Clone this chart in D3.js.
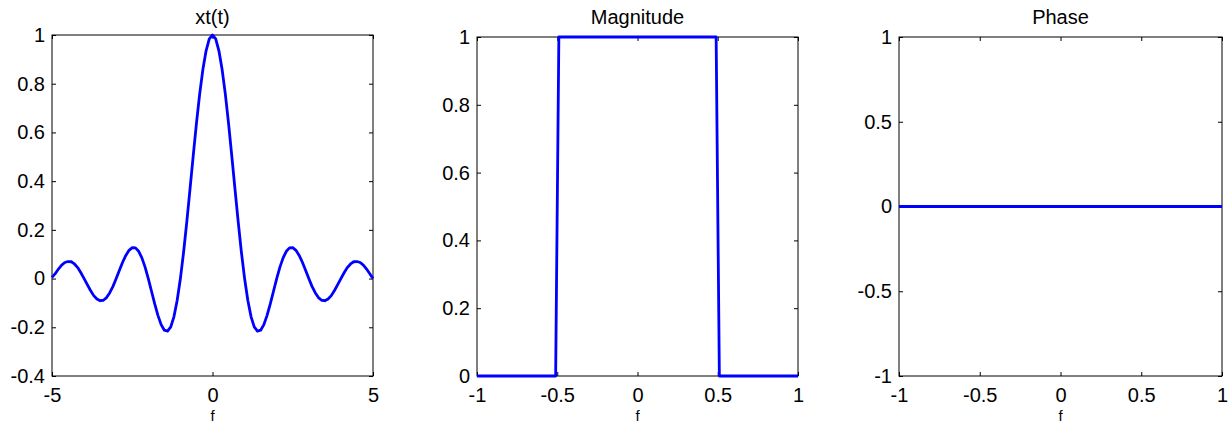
<!DOCTYPE html>
<html lang="en">
<head>
<meta charset="utf-8">
<title>xt(t), Magnitude, Phase</title>
<script src="https://d3js.org/d3.v7.min.js"></script>
<style>
  body { margin: 0; background: #fff; }
  svg text { font-family: "Liberation Sans", Arial, sans-serif; fill: #000; }
</style>
</head>
<body>
<div id="chart"></div>
<script>
// time axis and sinc samples
var tVals = [-5, -4.9, -4.8, -4.7, -4.6, -4.5, -4.4, -4.3, -4.2, -4.1,
             -4, -3.9, -3.8, -3.7, -3.6, -3.5, -3.4, -3.3, -3.2, -3.1,
             -3, -2.9, -2.8, -2.7, -2.6, -2.5, -2.4, -2.3, -2.2, -2.1,
             -2, -1.9, -1.8, -1.7, -1.6, -1.5, -1.4, -1.3, -1.2, -1.1,
             -1, -0.9, -0.8, -0.7, -0.6, -0.5, -0.4, -0.3, -0.2, -0.1,
             0, 0.1, 0.2, 0.3, 0.4, 0.5, 0.6, 0.7, 0.8, 0.9,
             1, 1.1, 1.2, 1.3, 1.4, 1.5, 1.6, 1.7, 1.8, 1.9,
             2, 2.1, 2.2, 2.3, 2.4, 2.5, 2.6, 2.7, 2.8, 2.9,
             3, 3.1, 3.2, 3.3, 3.4, 3.5, 3.6, 3.7, 3.8, 3.9,
             4, 4.1, 4.2, 4.3, 4.4, 4.5, 4.6, 4.7, 4.8, 4.9, 5];
var xtVals = [0.005, 0.020, 0.039, 0.055, 0.066, 0.070, 0.069, 0.060, 0.045, 0.024,
              0, -0.025, -0.049, -0.070, -0.084, -0.091, -0.089, -0.078, -0.058, -0.032,
              0, 0.034, 0.067, 0.095, 0.116, 0.127, 0.126, 0.112, 0.085, 0.047,
              0, -0.052, -0.104, -0.151, -0.189, -0.212, -0.216, -0.198, -0.156, -0.089,
              0, 0.109, 0.234, 0.368, 0.505, 0.637, 0.757, 0.858, 0.935, 0.984,
              1, 0.984, 0.935, 0.858, 0.757, 0.637, 0.505, 0.368, 0.234, 0.109,
              0, -0.089, -0.156, -0.198, -0.216, -0.212, -0.189, -0.151, -0.104, -0.052,
              0, 0.047, 0.085, 0.112, 0.126, 0.127, 0.116, 0.095, 0.067, 0.034,
              0, -0.032, -0.058, -0.078, -0.089, -0.091, -0.084, -0.070, -0.049, -0.025,
              0, 0.024, 0.045, 0.060, 0.069, 0.070, 0.066, 0.055, 0.039, 0.020, 0];

// frequency response
var fMag = [-1, -0.51, -0.49, 0.49, 0.51, 1];
var magVals = [0, 0, 1, 1, 0, 0];
var fPhase = [-1, 1];
var phaseVals = [0, 0];

// tick labels
var xTicks1 = [-5, 0, 5];
var yTicks1 = [-0.4, -0.2, 0, 0.2, 0.4, 0.6, 0.8, 1];
var xTicks2 = [-1, -0.5, 0, 0.5, 1];
var yTicks2 = [0, 0.2, 0.4, 0.6, 0.8, 1];
var xTicks3 = [-1, -0.5, 0, 0.5, 1];
var yTicks3 = [-1, -0.5, 0, 0.5, 1];

var W = 1229, H = 427;
var svg = d3.select("#chart").append("svg")
  .attr("width", W).attr("height", H);

var panels = [
  {title: "xt(t)", xs: tVals, ys: xtVals, xd: [-5, 5], yd: [-0.4, 1],
   xt: xTicks1, yt: yTicks1, left: 52, right: 373, top: 35, bottom: 376},
  {title: "Magnitude", xs: fMag, ys: magVals, xd: [-1, 1], yd: [0, 1],
   xt: xTicks2, yt: yTicks2, left: 477, right: 798, top: 37, bottom: 376},
  {title: "Phase", xs: fPhase, ys: phaseVals, xd: [-1, 1], yd: [-1, 1],
   xt: xTicks3, yt: yTicks3, left: 899, right: 1222, top: 37, bottom: 376}
];

var fmt = function(d) { return String(d); };

panels.forEach(function(p) {
  var x = d3.scaleLinear().domain(p.xd).range([p.left, p.right]);
  var y = d3.scaleLinear().domain(p.yd).range([p.bottom, p.top]);
  var g = svg.append("g");
  var tl = 4;

  // mirrored inward ticks on all sides, like a boxed matlab axes
  g.append("g").attr("transform", "translate(0," + p.bottom + ")")
    .call(d3.axisBottom(x).tickValues(p.xt).tickSizeInner(-tl).tickSizeOuter(0).tickPadding(12).tickFormat(fmt));
  g.append("g").attr("transform", "translate(0," + p.top + ")")
    .call(d3.axisTop(x).tickValues(p.xt).tickSizeInner(-tl).tickSizeOuter(0).tickFormat(""));
  g.append("g").attr("transform", "translate(" + p.left + ",0)")
    .call(d3.axisLeft(y).tickValues(p.yt).tickSizeInner(-tl).tickSizeOuter(0).tickPadding(7).tickFormat(fmt));
  g.append("g").attr("transform", "translate(" + p.right + ",0)")
    .call(d3.axisRight(y).tickValues(p.yt).tickSizeInner(-tl).tickSizeOuter(0).tickFormat(""));

  g.selectAll(".domain").remove();
  g.selectAll(".tick line").attr("stroke", "#000");
  g.selectAll(".tick text")
    .style("font-family", "'Liberation Sans', Arial, sans-serif")
    .style("font-size", "20px").attr("fill", "#000");

  // box
  g.append("rect")
    .attr("x", p.left).attr("y", p.top)
    .attr("width", p.right - p.left).attr("height", p.bottom - p.top)
    .attr("fill", "none").attr("stroke", "#000").attr("stroke-width", 1);

  var pts = p.xs.map(function(v, i) { return [v, p.ys[i]]; });
  g.append("path")
    .datum(pts)
    .attr("fill", "none")
    .attr("stroke", "#0000ff")
    .attr("stroke-width", 2.8)
    .attr("stroke-linejoin", "round")
    .attr("d", d3.line().x(function(d) { return x(d[0]); }).y(function(d) { return y(d[1]); }));

  g.append("text")
    .attr("x", (p.left + p.right) / 2).attr("y", 24)
    .attr("text-anchor", "middle").style("font-size", "20px")
    .text(p.title);

  g.append("text")
    .attr("x", (p.left + p.right) / 2).attr("y", 421)
    .attr("text-anchor", "middle").style("font-size", "15px")
    .text("f");
});
</script>
</body>
</html>
